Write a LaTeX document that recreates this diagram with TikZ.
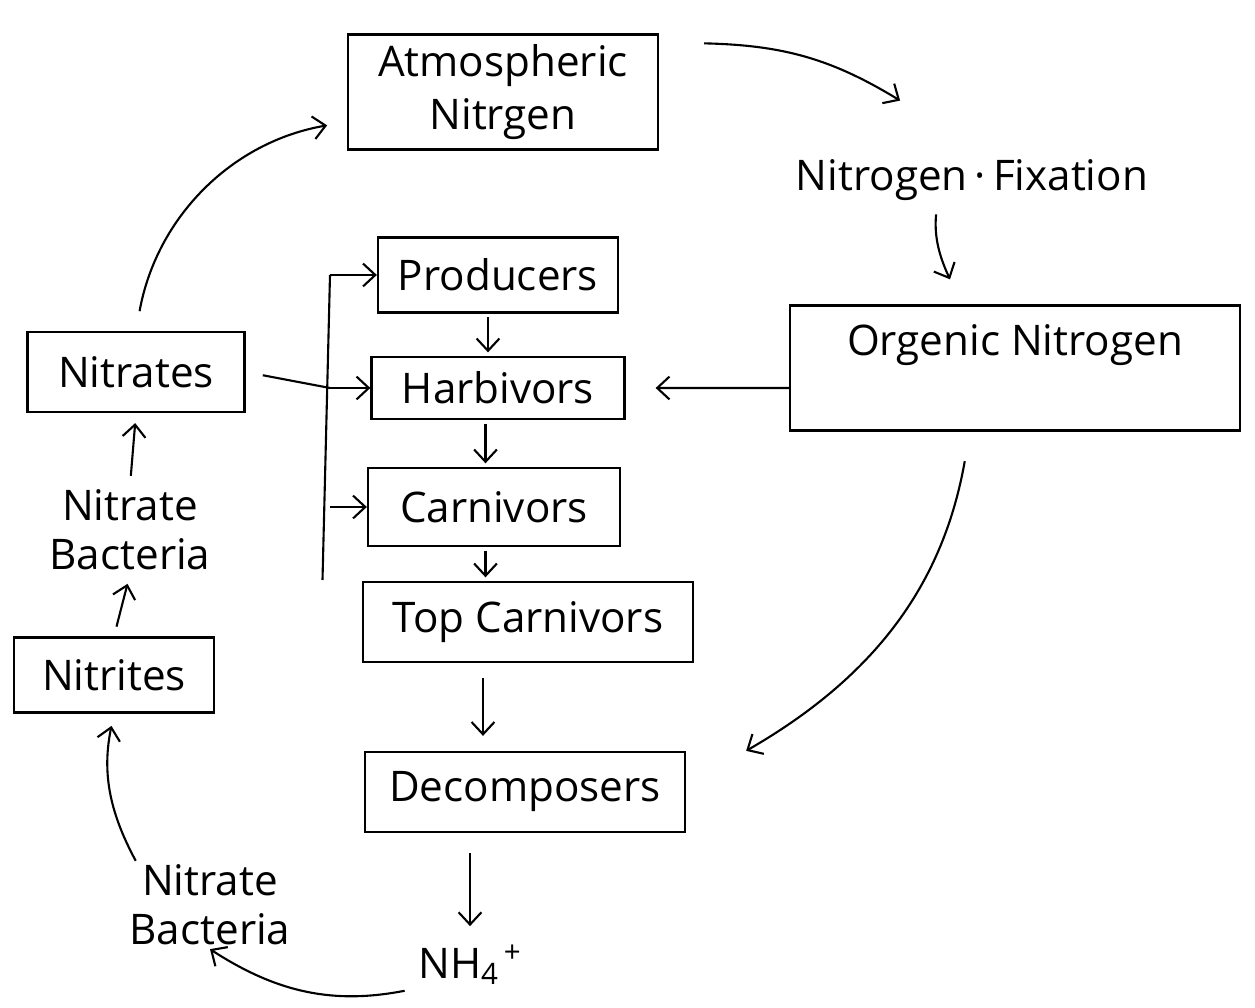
\documentclass[tikz,border=0pt]{standalone}
\usepackage{fontspec}
\setmainfont{Open Sans}
\usetikzlibrary{arrows.meta,positioning}
\tikzset{
    box/.style={rectangle, draw, align=center, font=\fontsize{24}{30}\selectfont, line width=1.3pt, inner sep=2pt},
    note/.style={align=center, font=\fontsize{24}{28}\selectfont, inner sep=2pt},
    line/.style={draw, -{Straight Barb[length=7pt,width=13pt]}, line width=1.2pt},
    plain/.style={draw, line width=1.2pt}
}

\begin{document}
\begin{tikzpicture}
    \useasboundingbox (0,0) rectangle (25.1,-20.16);

    % main boxes
    \node [box, minimum width=6.2cm, minimum height=2.3cm] (atmo) at (10.06,-1.84) {Atmospheric\\Nitrgen};
    \node [note] (fix) at (19.44,-3.6) {Nitrogen\,·\,Fixation};
    \node [box, minimum width=9cm, minimum height=2.5cm, text depth=1.1cm] (orgN) at (20.3,-7.36) {Orgenic Nitrogen};

    % food chain
    \node [box, minimum width=4.8cm, minimum height=1.5cm] (prod) at (9.96,-5.5) {Producers};
    \node [box, below of=prod, node distance=2.26cm, minimum width=5.06cm, minimum height=1.24cm] (harb) {Harbivors};
    \node [box, below of=harb, node distance=2.38cm, xshift=-0.08cm, minimum width=5.04cm, minimum height=1.56cm] (carn) {Carnivors};
    \node [box, below of=carn, node distance=2.3cm, xshift=0.68cm, minimum width=6.6cm, minimum height=1.6cm] (topc) {Top Carnivors};
    \node [box, below of=topc, node distance=3.4cm, xshift=-0.06cm, minimum width=6.4cm, minimum height=1.6cm] (decomp) {Decomposers};
    \node [note, below of=decomp, node distance=3.46cm, xshift=-1.1cm] (nh) {NH\textsubscript{4}\textsuperscript{\,+}};

    % left side
    \node [box, minimum width=4.34cm, minimum height=1.6cm] (nitrates) at (2.72,-7.44) {Nitrates};
    \node [note] (bact1) at (2.6,-10.6) {Nitrate\\Bacteria};
    \node [box, minimum width=4.0cm, minimum height=1.5cm] (nitrites) at (2.28,-13.5) {Nitrites};
    \node [note] (bact2) at (4.2,-18.1) {Nitrate\\Bacteria};

    % feeding line
    \coordinate (bustop) at (6.6,-5.5);
    \coordinate (busbot) at (6.45,-11.6);
    \path [plain] (bustop) -- (busbot);
    \path [line] (bustop |- prod.west) -- (prod.west);
    \path [line] (bustop |- harb.west) -- (harb.west);
    \path [line] (bustop |- carn.west) -- (carn.west);
    \path [plain, shorten <=0.35cm] (nitrates.east) -- (bustop |- harb.west);

    % down the chain
    \path [line, shorten <=2pt, shorten >=2pt] ([xshift=-0.2cm]prod.south) -- ([xshift=-0.2cm]prod.south |- harb.north);
    \path [line, shorten <=2pt, shorten >=2pt] ([xshift=-0.25cm]prod.south |- harb.south) -- ([xshift=-0.25cm]prod.south |- carn.north);
    \path [line, shorten <=2pt, shorten >=2pt] ([xshift=-0.25cm]prod.south |- carn.south) -- ([xshift=-0.25cm]prod.south |- topc.north);
    \path [line, shorten <=0.3cm, shorten >=0.3cm] ([xshift=-0.3cm]prod.south |- topc.south) -- ([xshift=-0.3cm]prod.south |- decomp.north);
    \path [line, shorten <=0.4cm, shorten >=0.3cm] (nh |- decomp.south) -- (nh.north);

    % cycle
    \path [line, shorten <=0.4cm, shorten >=0.4cm] (nitrates.north) to [bend left=35] ([yshift=-0.6cm]atmo.west);
    \path [line] ([xshift=0.9cm, yshift=-0.2cm]atmo.north east) to [bend left=15] ([xshift=2.16cm, yshift=1.1cm]fix.north west);
    \path [line, shorten <=0.2cm] ([xshift=-0.7cm]fix.south) to [bend right=15] ([xshift=-1.3cm, yshift=0.5cm]orgN.north);
    \path [line, shorten >=0.6cm] ([yshift=-0.4cm]orgN.west) -- (harb.east);
    \path [line, shorten <=0.6cm] ([xshift=-0.9cm]orgN.south) to [bend left=25] ([xshift=1.2cm]decomp.north east);
    \path [line, shorten <=0.2cm] (nh.south west) to [bend left=22] (bact2.south);
    \path [line, shorten >=0.25cm] ([xshift=0.2cm]bact2.north west) to [bend left=20] (nitrites.south);
    \path [line, shorten <=0.2cm, shorten >=0.2cm] (nitrites.north) -- (bact1.south);
    \path [line, shorten <=0.2cm, shorten >=0.2cm] (bact1.north) -- (nitrates.south);
\end{tikzpicture}
\end{document}
